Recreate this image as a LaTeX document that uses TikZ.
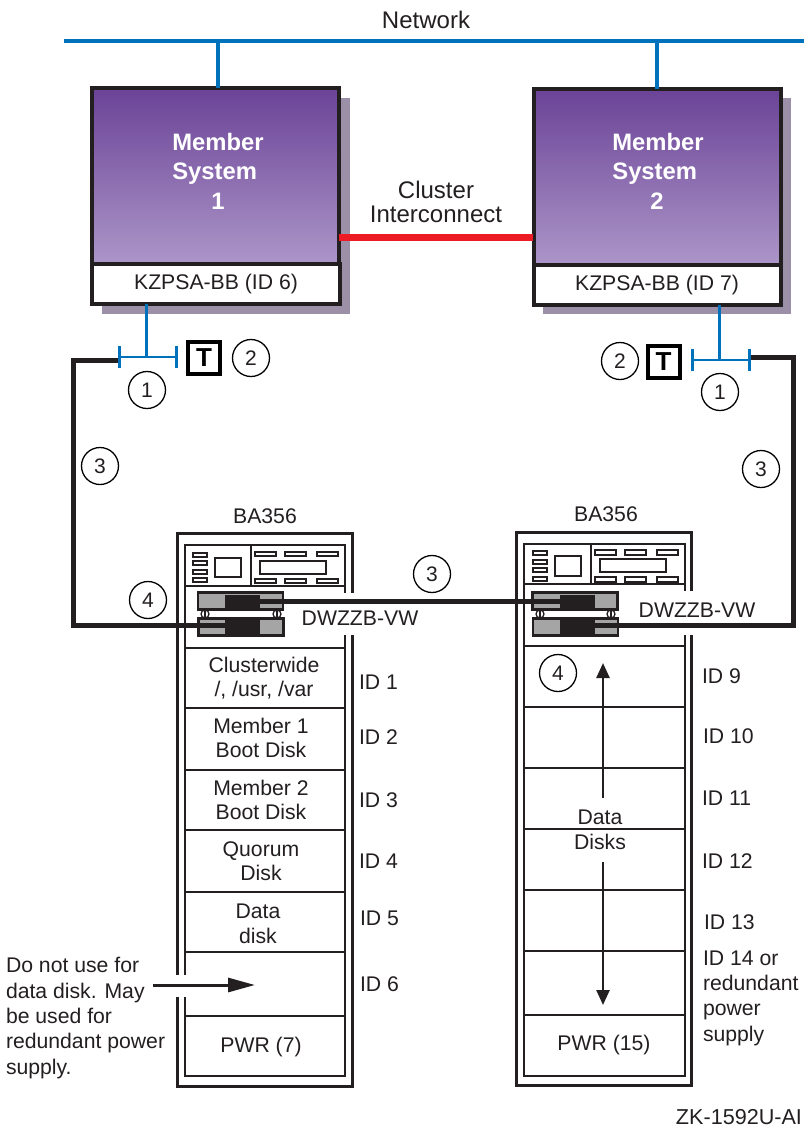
\documentclass[tikz,border=0pt]{standalone}
\usepackage{fontspec}
\setmainfont{Liberation Sans}
\usetikzlibrary{arrows.meta}
\definecolor{netblue}{RGB}{0,114,188}
\definecolor{linkred}{RGB}{237,28,36}
\definecolor{inkdark}{RGB}{35,31,32}
\definecolor{shadowgrey}{RGB}{156,144,168}
\definecolor{sysTop}{RGB}{107,67,151}
\definecolor{sysBottom}{RGB}{172,150,200}
\definecolor{modgrey}{RGB}{165,165,165}
\begin{document}
\begin{tikzpicture}[x=1pt, y=-1pt, every node/.style={outer sep=0pt, inner sep=0pt, text=inkdark}]
\useasboundingbox (0,0) rectangle (804,1128);
\tikzset{txt/.style={font=\fontsize{21.2}{24.5}\selectfont, align=center}};
\tikzset{txtbig/.style={font=\fontsize{24}{24.5}\selectfont, align=center}};
\tikzset{txtleft/.style={font=\fontsize{21.2}{25.4}\selectfont, align=left, anchor=west}};
\tikzset{syslabel/.style={font=\fontsize{23.8}{29}\bfseries\selectfont, text=white, align=left}};
\tikzset{sysbox/.style={rectangle, draw=inkdark, line width=4pt, top color=sysTop, bottom color=sysBottom, minimum width=247pt, minimum height=176pt}};
\tikzset{cardbox/.style={rectangle, draw=inkdark, line width=4pt, fill=white, minimum width=247pt, minimum height=40pt, font=\fontsize{21.2}{24}\selectfont}};
\tikzset{termbox/.style={rectangle, draw=black, line width=4pt, fill=white, minimum size=32pt, font=\fontsize{26}{26}\bfseries\selectfont, text=black}};
\tikzset{callout/.style={circle, draw=black, line width=1.3pt, minimum size=37pt, font=\fontsize{21}{21}\selectfont}};
\tikzset{rackbox/.style={rectangle, draw=inkdark, line width=2.6pt, minimum width=175pt, minimum height=553pt}};
\tikzset{rackin/.style={draw=inkdark, line width=1.3pt}};
\tikzset{part/.style={draw=inkdark, line width=1.3pt}};
\tikzset{modbox/.style={rectangle, draw=inkdark, line width=2.5pt, fill=modgrey, minimum width=85pt, minimum height=17pt}};
\tikzset{modcore/.style={rectangle, fill=inkdark, minimum width=35pt, minimum height=14pt}};

\fill[shadowgrey] (102,98) rectangle (350,314);
\fill[shadowgrey] (543,98) rectangle (791,314);

\coordinate (netL) at (64,41);
\coordinate (netR) at (804,41);
\coordinate (net1) at (218,41);
\coordinate (net2) at (657,41);
\tikzset{netline/.style={draw=netblue, line width=4pt}};
\path (netL) edge [netline] (netR);

\node[sysbox] (sys1) at (215.5,176) {};
\node[cardbox] (card1) at (216,284) [minimum width=248pt] {KZPSA-BB (ID 6)};
\node[sysbox] (sys2) at (657,177) {};
\node[cardbox] (card2) at (657,285) {KZPSA-BB (ID 7)};
\path (net1) edge [netline] (net1 |- sys1.north);
\path (net2) edge [netline] (net2 |- sys2.north);

\node[syslabel] (name1) at (218,159) {Member\\System};
\node[syslabel] (num1) at (218,201) {1};
\node[syslabel] (name2) at (658,159) {Member\\System};
\node[syslabel] (num2) at (657,201) {2};

\coordinate (link1) at (339,237);
\coordinate (link2) at (533,237);
\path (link1) edge [draw=linkred, line width=7pt] (link2);
\node[txtbig] (linklabel) at (436,202) {Cluster\\Interconnect};
\node[txtbig] (netlabel) at (426,20) {Network};

\tikzset{busline/.style={draw=netblue, line width=3pt}};
\tikzset{busbar/.style={draw=netblue, line width=2.5pt, {Bar[width=22pt,line width=3pt]}-{Bar[width=22pt,line width=3pt]}}};
\coordinate (bus1L) at (118,357);
\coordinate (bus1M) at (146,357);
\coordinate (bus1R) at (178,357);
\coordinate (bus2L) at (691,360);
\coordinate (bus2M) at (719,360);
\coordinate (bus2R) at (751,360);
\path (bus1M |- card1.south) edge [busline] (bus1M);
\path (bus2M |- card2.south) edge [busline] (bus2M);
\path (bus1L) edge [busbar] (bus1R);
\path (bus2L) edge [busbar] (bus2R);
\node[termbox] (term1) at (204,357.5) {T};
\node[termbox] (term2) at (663.5,361.5) {T};

\node[callout] (c1a) at (147,390) {1};
\node[callout] (c2a) at (251,358) {2};
\node[callout] (c1b) at (720,392) {1};
\node[callout] (c2b) at (620,361) {2};
\node[callout] (c3a) at (100,466) {3};
\node[callout] (c3b) at (432,574) {3};
\node[callout] (c3c) at (761,469) {3};
\node[callout] (c4a) at (148,600) {4};

\node[txt] (rack1name) at (265,516) {BA356};
\node[txt] (rack2name) at (606,514) {BA356};
\node[rackbox] (rack1) at (265,810) {};
\node[rackbox] (rack2) at (604,809) {};

\draw[rackin] (185,545) rectangle (345,1076);
\draw[rackin] (185,586) -- (345,586);
\draw[rackin] (251,545) -- (251,586);
\draw[rackin] (185,648) -- (345,648);
\draw[rackin] (185,708) -- (345,708);
\draw[rackin] (185,770) -- (345,770);
\draw[rackin] (185,830) -- (345,830);
\draw[rackin] (185,892) -- (345,892);
\draw[rackin] (185,952) -- (345,952);
\draw[rackin] (185,1016) -- (345,1016);
\draw[part] (193,553) rectangle (207,557);
\draw[part] (193,561) rectangle (207,565);
\draw[part] (193,570) rectangle (207,574);
\draw[part] (193,578) rectangle (207,582);
\draw[part] (215,558) rectangle (241,577);
\draw[part] (255,552) rectangle (276,556);
\draw[part] (285,552) rectangle (306,556);
\draw[part] (317,552) rectangle (338,556);
\draw[part] (260,561) rectangle (326,574);
\draw[part] (255,579) rectangle (276,583);
\draw[part] (285,579) rectangle (306,583);
\draw[part] (317,579) rectangle (338,583);

\draw[rackin] (524,544) rectangle (685,1076);
\draw[rackin] (524,584) -- (685,584);
\draw[rackin] (591,544) -- (591,584);
\draw[rackin] (524,646) -- (685,646);
\draw[rackin] (524,707) -- (685,707);
\draw[rackin] (524,768) -- (685,768);
\draw[rackin] (524,829) -- (685,829);
\draw[rackin] (524,890) -- (685,890);
\draw[rackin] (524,951) -- (685,951);
\draw[rackin] (524,1015) -- (685,1015);
\draw[part] (533,551) rectangle (547,555);
\draw[part] (533,560) rectangle (547,564);
\draw[part] (533,568) rectangle (547,572);
\draw[part] (533,577) rectangle (547,581);
\draw[part] (555,556) rectangle (581,576);
\draw[part] (595,550) rectangle (616,555);
\draw[part] (625,550) rectangle (646,555);
\draw[part] (657,550) rectangle (678,555);
\draw[part] (600,559) rectangle (666,572);
\draw[part] (595,577) rectangle (616,582);
\draw[part] (625,577) rectangle (646,582);
\draw[part] (657,577) rectangle (678,582);

\fill[white] (300,593) rectangle (420,635);
\fill[white] (636,591) rectangle (756,635);
\fill[white] (170,975) rectangle (190,997);
\node[txt] (dw1label) at (360,618) {DWZZB-VW};
\node[txt] (dw2label) at (697,610) {DWZZB-VW};

\draw[part] (205,614) circle (4);
\draw[part] (205,610) -- (205,618);
\draw[part] (277,614) circle (4);
\draw[part] (277,610) -- (277,618);
\draw[part] (540,614) circle (4);
\draw[part] (540,610) -- (540,618);
\draw[part] (611,614) circle (4);
\draw[part] (611,610) -- (611,618);
\node[modbox] (mod1a) at (240.5,601) {};
\node[modbox] (mod1b) at (241,627) {};
\node[modbox] (mod2a) at (575,601) {};
\node[modbox] (mod2b) at (575.5,627) {};
\node[modcore] (core1a) at (242.5,601.5) {};
\node[modcore] (core1b) at (242,627) {};
\node[modcore] (core2a) at (577,601.5) {};
\node[modcore] (core2b) at (577,627) {};

\tikzset{cable/.style={draw=inkdark, line width=5pt}};
\coordinate (turn1a) at (73,360);
\coordinate (turn1b) at (73,625);
\coordinate (turn2a) at (793,357);
\coordinate (turn2b) at (793,625);
\draw[cable] (bus1L |- turn1a) -- (turn1a) -- (turn1b) -- (core1b.west |- turn1b);
\draw[cable] (bus2R |- turn2a) -- (turn2a) -- (turn2b) -- (core2b.east |- turn2b);
\draw[cable] (core1a.east) -- (core2a.west);

\node[txt] (row1a) at (264,678) {Clusterwide\\/, /usr, /var};
\node[txt] (row1b) at (261,738) {Member 1\\Boot Disk};
\node[txt] (row1c) at (261,800) {Member 2\\Boot Disk};
\node[txt] (row1d) at (261,861) {Quorum\\Disk};
\node[txt] (row1e) at (258,924) {Data\\disk};
\node[txt] (row1g) at (261,1047) {PWR (7)};
\node[txtleft] (id1) at (359,682) {ID 1};
\node[txtleft] (id2) at (359,737) {ID 2};
\node[txtleft] (id3) at (359,800) {ID 3};
\node[txtleft] (id4) at (359,861) {ID 4};
\node[txtleft] (id5) at (360,918) {ID 5};
\node[txtleft] (id6) at (360,984) {ID 6};

\node[callout] (c4b) at (558,673) {4};
\node[txt] (datadisks) at (600,830) {Data\\Disks};
\node[txt] (row2g) at (604,1045) {PWR (15)};
\node[txtleft] (id9) at (702,676) {ID 9};
\node[txtleft] (id10) at (703,736) {ID 10};
\node[txtleft] (id11) at (702,798) {ID 11};
\node[txtleft] (id12) at (702,861) {ID 12};
\node[txtleft] (id13) at (704,922) {ID 13};
\node[txtleft] (id14) at (703,998) {ID 14 or\\redundant\\power\\supply};

\tikzset{arrowline/.style={draw=inkdark, line width=2.5pt, -{Triangle[length=15pt,width=13pt]}}};
\tikzset{arrowlong/.style={draw=inkdark, line width=3pt, -{Triangle[length=27pt,width=14pt]}}};
\coordinate (up1) at (603,798);
\coordinate (up2) at (603,663);
\coordinate (down1) at (603,862);
\coordinate (down2) at (603,1005);
\coordinate (note1) at (153,985);
\coordinate (note2) at (255,985);
\path (up1) edge [arrowline] (up2);
\path (down1) edge [arrowline] (down2);
\path (note1) edge [arrowlong] (note2);
\node[txtleft] (note) at (6,1018) {Do not use for\\data disk.  May\\be used for\\redundant power\\supply.};
\node[anchor=east, font=\fontsize{21.6}{24}\selectfont] (zk) at (802,1117) {ZK-1592U-AI};
\end{tikzpicture}
\end{document}
